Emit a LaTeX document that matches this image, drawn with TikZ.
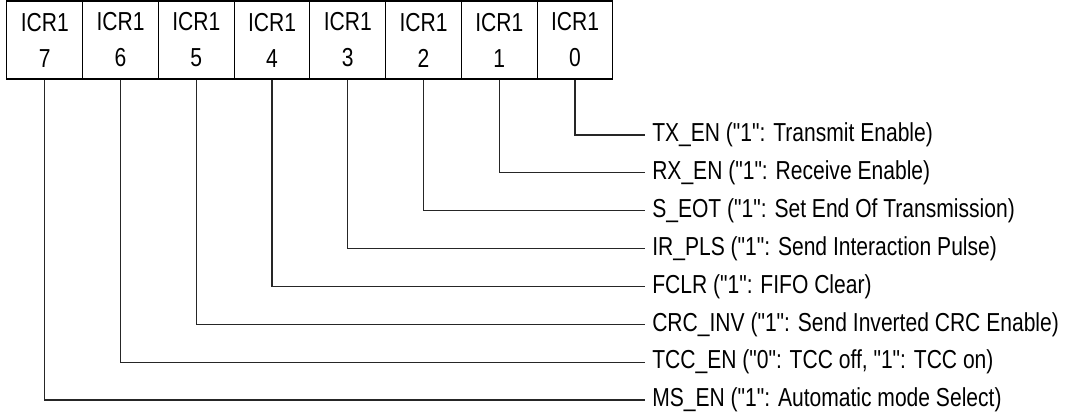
\documentclass[tikz,border=0pt]{standalone}
\usepackage{fontspec}
\setmainfont{Liberation Sans}[Ligatures=TeXOff, FakeStretch=0.81]
\usepackage{tikz}
\usetikzlibrary{positioning}

\begin{document}
\begin{tikzpicture}[
  x=0.75pt, y=-0.75pt,
  font=\fontsize{19.5}{27}\selectfont,
  every node/.style={align=center},
  cell/.style={draw=black, line width=0.8pt, minimum width=56.8pt,
               minimum height=58.5pt, inner sep=0pt},
  lbl/.style={anchor=west, inner sep=0pt},
  wire/.style={draw=black!85, line width=0.8pt},
]
\useasboundingbox (0,0) rectangle (1067,418);

% register bits
\foreach \b in {0,...,7}{
  \node[cell] (cell\b) at ({575-75.75*\b},40) {ICR1\\\b};
}

% bit descriptions
\foreach \b/\t in {0/{TX\_EN ("1": Transmit Enable)},
                   1/{RX\_EN ("1": Receive Enable)},
                   2/{S\_EOT ("1": Set End Of Transmission)},
                   3/{IR\_PLS ("1": Send Interaction Pulse)},
                   4/{FCLR ("1": FIFO Clear)},
                   5/{CRC\_INV ("1": Send Inverted CRC Enable)},
                   6/{TCC\_EN ("0": TCC off, "1": TCC on)},
                   7/{MS\_EN ("1": Automatic mode Select)}}{
  \node[lbl] (lbl\b) at (652,{135+37.86*\b}) {\t};
  \draw[wire] (cell\b.south) |- ([xshift=-5pt]lbl\b.west);
}

\end{tikzpicture}
\end{document}
